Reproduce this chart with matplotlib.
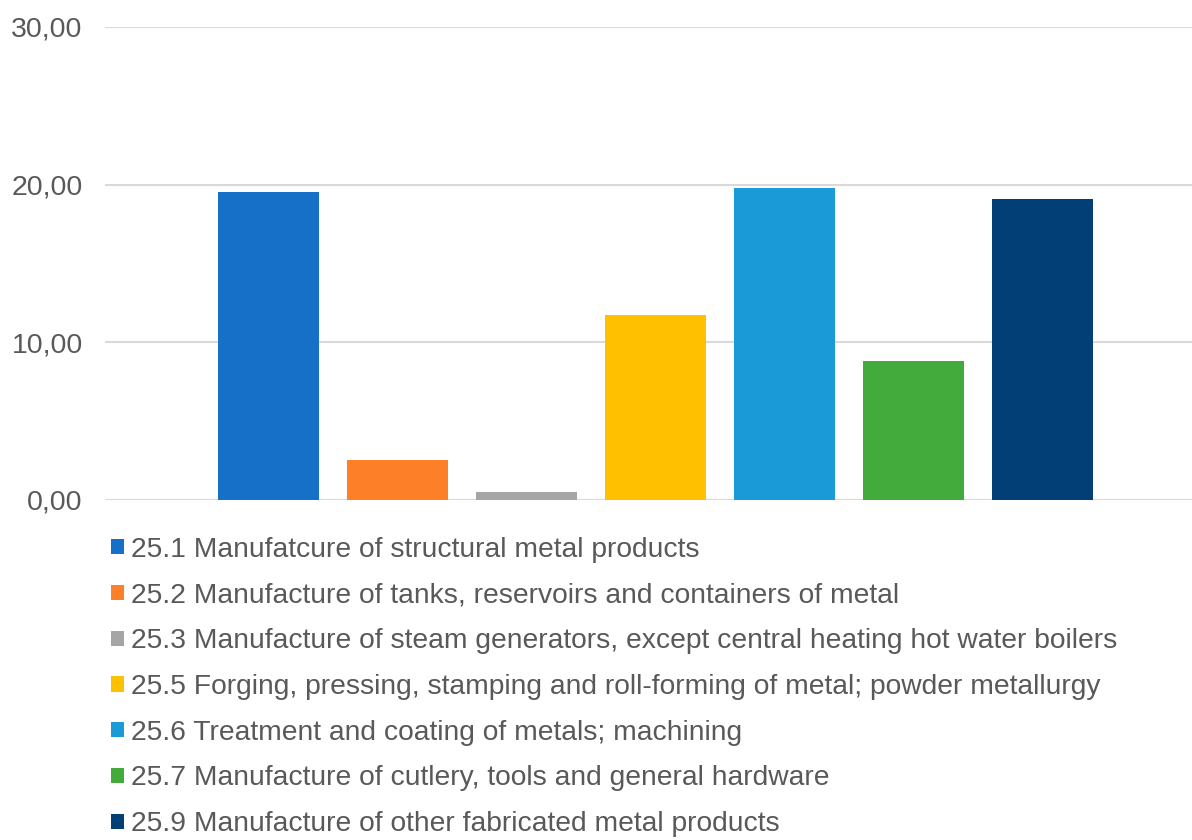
import matplotlib.pyplot as plt
from matplotlib.ticker import FuncFormatter

plt.rcParams['font.family'] = ['Liberation Sans', 'DejaVu Sans']

labels = [
    "25.1 Manufatcure of structural metal products",
    "25.2 Manufacture of tanks, reservoirs and containers of metal",
    "25.3 Manufacture of steam generators, except central heating hot water boilers",
    "25.5 Forging, pressing, stamping and roll-forming of metal; powder metallurgy",
    "25.6 Treatment and coating of metals; machining",
    "25.7 Manufacture of cutlery, tools and general hardware",
    "25.9 Manufacture of other fabricated metal products",
]
values = [19.5, 2.5, 0.5, 11.7, 19.75, 8.8, 19.05]
colors = ["#1770C8", "#FD7F28", "#A5A5A5", "#FFC000", "#1B9AD8", "#43AB3C", "#023F76"]

fig = plt.figure(figsize=(11.92, 8.4), dpi=100)
ax = fig.add_axes([0.088, 0.405, 0.912, 0.563])

bw = 0.78
for i, (lab, v, c) in enumerate(zip(labels, values, colors)):
    ax.bar(i, v, width=bw, color=c, label=lab, zorder=3)

ax.set_xlim(-1.27, 7.16)
ax.set_ylim(0, 30)
ax.set_yticks([0, 10, 20, 30])
ax.yaxis.set_major_formatter(FuncFormatter(lambda v, p: f"{v:.2f}".replace(".", ",")))
ax.set_xticks([])
ax.grid(axis="y", color="#D9D9D9", linewidth=1.5, zorder=0)
for s in ax.spines.values():
    s.set_visible(False)
ax.axhline(0, color="#D9D9D9", linewidth=1.5, zorder=2)
ax.tick_params(axis="y", length=0, labelsize=20.5, labelcolor="#595959", pad=16)

leg = fig.legend(loc="upper left", bbox_to_anchor=(0.093, 0.361), frameon=False,
                 fontsize=20.3, labelcolor="#595959", handlelength=0.45,
                 handleheight=0.45, handletextpad=0.25, labelspacing=0.70,
                 borderaxespad=0, borderpad=0)

fig.savefig("out.png", dpi=100)
